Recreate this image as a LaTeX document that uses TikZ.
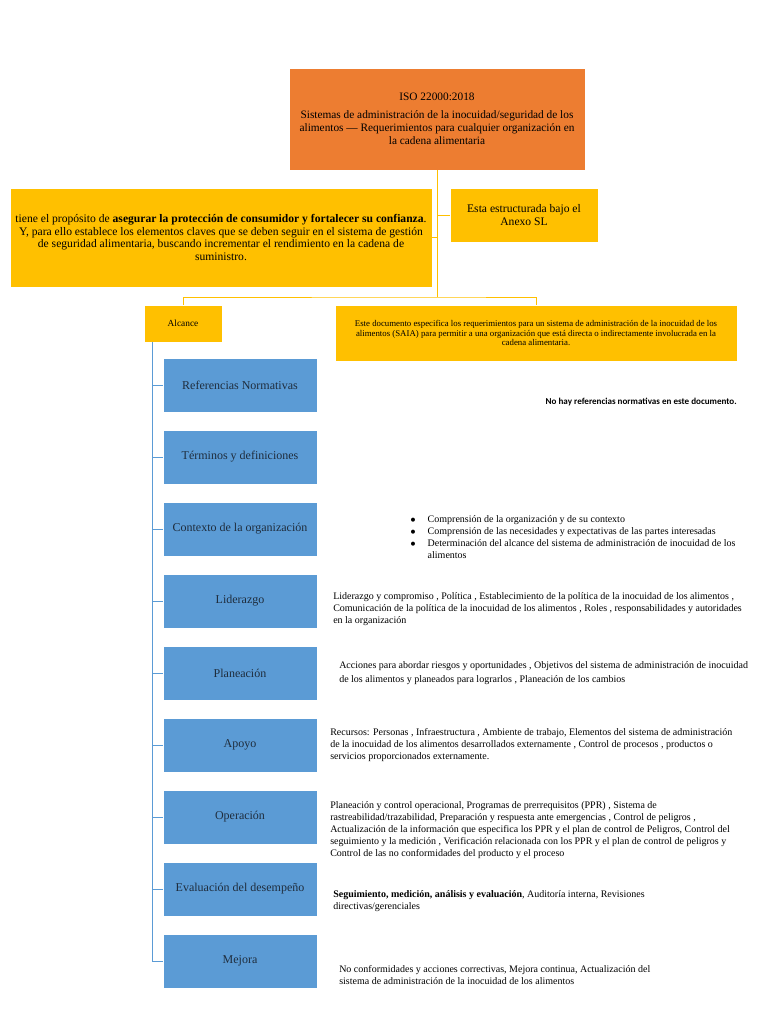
\documentclass[tikz,border=0pt]{standalone}
\usepackage{fontspec}
\setmainfont{Liberation Serif}
\newfontfamily\calibfont{Carlito}
\usetikzlibrary{positioning}
\definecolor{isoorange}{HTML}{ED7D31}
\definecolor{isogold}{HTML}{FFC000}
\definecolor{isoblue}{HTML}{5B9BD5}
\definecolor{isonavy}{HTML}{1F2D3D}

\begin{document}
\begin{tikzpicture}[
  x=0.75pt, y=-0.75pt,
  node distance=13.5pt,
  head/.style={
    draw=white, fill=isoorange, align=center, inner sep=3pt,
    minimum width=222pt, minimum height=76.5pt,
    font=\fontsize{8.5}{9.6}\selectfont
  },
  note/.style={
    draw=white, fill=isogold, align=center, inner sep=3pt,
    font=\fontsize{8.7}{9.4}\selectfont
  },
  clause/.style={
    draw=white, fill=isoblue, align=center, inner sep=2pt, outer sep=0pt,
    minimum width=115.5pt, minimum height=40.5pt,
    text=isonavy, font=\fontsize{9}{10}\selectfont
  },
  detail/.style={align=left, anchor=west, inner sep=0pt,
    font=\fontsize{7.5}{9}\selectfont},
  gline/.style={draw=isogold, line width=0.5pt},
  bline/.style={draw=isoblue, line width=0.6pt},
]
\useasboundingbox (0,0) rectangle (768,1024);

% Title and first level
\node[head] (iso) at (437,119) {ISO 22000:2018\\[4pt]
  Sistemas de administración de la inocuidad/seguridad de los\\
  alimentos --- Requerimientos para cualquier organización en\\
  la cadena alimentaria};
\node[note, minimum width=316.5pt, minimum height=74.25pt] (prop) at (221,237.5)
  {tiene el propósito de \textbf{asegurar la protección de consumidor y fortalecer su confianza}.\\
  Y, para ello establece los elementos claves que se deben seguir en el sistema de gestión\\
  de seguridad alimentaria, buscando incrementar el rendimiento en la cadena de\\
  suministro.};
\node[note, minimum width=111pt, minimum height=40.5pt] (anexo) at (524,215)
  {Esta estructurada bajo el\\ Anexo SL};

% Second level: scope
\node[note, minimum width=58.5pt, minimum height=27.75pt,
      font=\fontsize{7}{8}\selectfont] (alcance) at (183,323.5) {Alcance};
\node[note, minimum width=301.5pt, minimum height=42pt,
      font=\fontsize{6.6}{7.2}\selectfont] (desc) at (536,333)
  {Este documento especifica los requerimientos para un sistema de administración de la inocuidad de los\\
  alimentos (SAIA) para permitir a una organización que está directa o indirectamente involucrada en la\\
  cadena alimentaria.};

% Clauses, stacked under the scope
\node[clause] (refs) at (240,385) {Referencias Normativas};
\node[clause, below=of refs] (term) {Términos y definiciones};
\node[clause, below=of term] (ctx)  {Contexto de la organización};
\node[clause, below=of ctx]  (lid)  {Liderazgo};
\node[clause, below=of lid]  (plan) {Planeación};
\node[clause, below=of plan] (apo)  {Apoyo};
\node[clause, below=of apo]  (oper) {Operación};
\node[clause, below=of oper] (eval) {Evaluación del desempeño};
\node[clause, below=of eval] (mej)  {Mejora};

% Clause contents
\node[anchor=east, inner sep=0pt, font=\calibfont\bfseries\fontsize{6.8}{8}\selectfont]
  (refsTxt) at (737,402) {No hay referencias normativas en este documento.};
\node[detail] (ctxTxt) at (410,538) {%
  \begin{tabular}{@{}l@{\hspace{9pt}}l@{}}
  $\bullet$ & Comprensión de la organización y de su contexto\\
  $\bullet$ & Comprensión de las necesidades y expectativas de las partes interesadas\\
  $\bullet$ & Determinación del alcance del sistema de administración de inocuidad de los\\
            & alimentos
  \end{tabular}};
\node[detail] (lidTxt) at (333,609)
  {Liderazgo y compromiso , Política , Establecimiento de la política de la inocuidad de los alimentos ,\\
  Comunicación de la política de la inocuidad de los alimentos , Roles , responsabilidades y autoridades\\
  en la organización};
\node[detail, font=\fontsize{7.5}{10}\selectfont] (planTxt) at (339,673)
  {Acciones para abordar riesgos y oportunidades , Objetivos del sistema de administración de inocuidad\\
  de los alimentos y planeados para lograrlos , Planeación de los cambios};
\node[detail] (apoTxt) at (330,745)
  {Recursos: Personas , Infraestructura , Ambiente de trabajo, Elementos del sistema de administración\\
  de la inocuidad de los alimentos desarrollados externamente , Control de procesos , productos o\\
  servicios proporcionados externamente.};
\node[detail] (operTxt) at (330,830)
  {Planeación y control operacional, Programas de prerrequisitos (PPR) , Sistema de\\
  rastreabilidad/trazabilidad, Preparación y respuesta ante emergencias , Control de peligros ,\\
  Actualización de la información que especifica los PPR y el plan de control de Peligros, Control del\\
  seguimiento y la medición , Verificación relacionada con los PPR y el plan de control de peligros y\\
  Control de las no conformidades del producto y el proceso};
\node[detail] (evalTxt) at (333,901)
  {\textbf{Seguimiento, medición, análisis y evaluación}, Auditoría interna, Revisiones\\
  directivas/gerenciales};
\node[detail] (mejTxt) at (339,975)
  {No conformidades y acciones correctivas, Mejora continua, Actualización del\\
  sistema de administración de la inocuidad de los alimentos};

% Gold connectors from the title
\coordinate (split) at (437,297);
\draw[gline] (iso.south) -- (split);
\draw[gline] (prop.east) -- (prop.east -| split);
\draw[gline] (anexo.west) -- (anexo.west -| split);
\draw[gline] (alcance.north) |- (split) -| (desc.north);

% Blue trunk from the scope down to the clauses
\coordinate (trunk) at (152,342);
\draw[bline] (trunk) |- (mej.west);
\foreach \c in {refs,term,ctx,lid,plan,apo,oper,eval}
  \draw[bline] (\c.west -| trunk) -- (\c.west);
\end{tikzpicture}
\end{document}
